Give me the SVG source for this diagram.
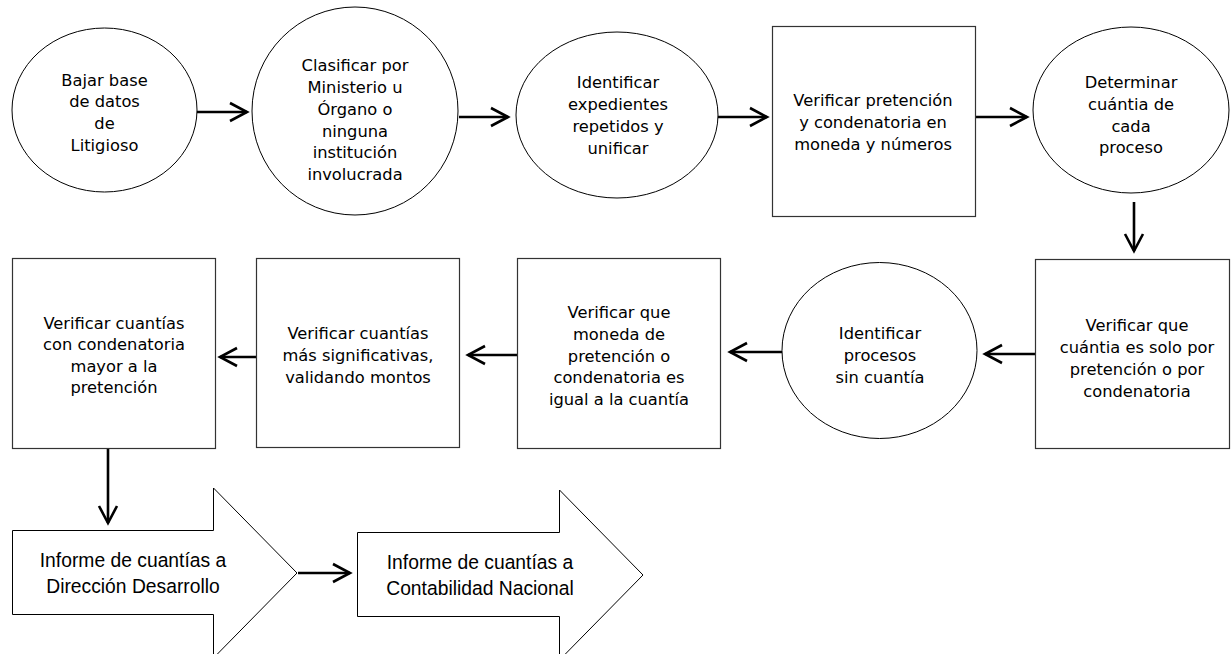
<svg xmlns="http://www.w3.org/2000/svg" width="1231" height="654" viewBox="0 0 1231 654">
<style>
.shape{fill:#fff;stroke:#000;stroke-width:1}
.box{fill:#fff;stroke:#333;stroke-width:1.2}
.t{font-family:"DejaVu Sans",Verdana,sans-serif;font-size:16.3px;fill:#000;text-anchor:middle}
.c{font-family:"Liberation Sans",Arial,sans-serif;font-size:19.3px;fill:#000;text-anchor:middle}
.conn{stroke:#000;stroke-width:2.6;fill:none;marker-end:url(#chev)}
</style>
<defs>
<marker id="chev" markerUnits="userSpaceOnUse" markerWidth="24" markerHeight="24" viewBox="0 0 24 24" refX="21" refY="12" orient="auto">
<path d="M4,3 L21,12 L4,21" fill="none" stroke="#000" stroke-width="2.6"/>
</marker>
</defs>
<rect width="1231" height="654" fill="#fff"/>

<g id="connectors">
<line class="conn" x1="197" y1="112" x2="247" y2="112"/>
<line class="conn" x1="459" y1="117" x2="508" y2="117"/>
<line class="conn" x1="718" y1="117" x2="767" y2="117"/>
<line class="conn" x1="975" y1="117" x2="1027" y2="117"/>
<line class="conn" x1="1134" y1="202" x2="1134" y2="251"/>
<line class="conn" x1="1035" y1="354" x2="985" y2="354"/>
<line class="conn" x1="782" y1="352" x2="730" y2="352"/>
<line class="conn" x1="517" y1="355" x2="468" y2="355"/>
<line class="conn" x1="256" y1="357" x2="220" y2="357"/>
<line class="conn" x1="108" y1="448" x2="108" y2="523"/>
<line class="conn" x1="298" y1="573" x2="350" y2="573"/>
</g>

<g id="n1">
<ellipse class="shape" cx="104.5" cy="110" rx="92.5" ry="82"/>
<text class="t"><tspan x="104.5" y="86">Bajar base</tspan><tspan x="104.5" y="107">de datos</tspan><tspan x="104.5" y="129">de</tspan><tspan x="104.5" y="151">Litigioso</tspan></text>
</g>

<g id="n2">
<ellipse class="shape" cx="355" cy="111" rx="103" ry="104"/>
<text class="t"><tspan x="355" y="71">Clasificar por</tspan><tspan x="355" y="93">Ministerio u</tspan><tspan x="355" y="115">Órgano o</tspan><tspan x="355" y="137">ninguna</tspan><tspan x="355" y="158">institución</tspan><tspan x="355" y="180">involucrada</tspan></text>
</g>

<g id="n3">
<ellipse class="shape" cx="617" cy="115" rx="101" ry="83"/>
<text class="t"><tspan x="618" y="88">Identificar</tspan><tspan x="618" y="110">expedientes</tspan><tspan x="618" y="132">repetidos y</tspan><tspan x="618" y="154">unificar</tspan></text>
</g>

<g id="n4">
<rect class="box" x="772.5" y="26.5" width="203" height="190"/>
<text class="t"><tspan x="873" y="106">Verificar pretención</tspan><tspan x="873" y="128">y condenatoria en</tspan><tspan x="873" y="150">moneda y números</tspan></text>
</g>

<g id="n5">
<ellipse class="shape" cx="1131" cy="110" rx="98" ry="83"/>
<text class="t"><tspan x="1131" y="88">Determinar</tspan><tspan x="1131" y="110">cuántia de</tspan><tspan x="1131" y="132">cada</tspan><tspan x="1131" y="153">proceso</tspan></text>
</g>

<g id="n6">
<rect class="box" x="1035.5" y="259.5" width="194" height="189"/>
<text class="t"><tspan x="1137" y="331">Verificar que</tspan><tspan x="1137" y="353">cuántia es solo por</tspan><tspan x="1137" y="375">pretención o por</tspan><tspan x="1137" y="397">condenatoria</tspan></text>
</g>

<g id="n7">
<ellipse class="shape" cx="879.5" cy="350.5" rx="97.5" ry="88"/>
<text class="t"><tspan x="880" y="339">Identificar</tspan><tspan x="880" y="361">procesos</tspan><tspan x="880" y="383">sin cuantía</tspan></text>
</g>

<g id="n8">
<rect class="box" x="517.5" y="258.5" width="203" height="190"/>
<text class="t"><tspan x="619" y="318">Verificar que</tspan><tspan x="619" y="340">moneda de</tspan><tspan x="619" y="362">pretención o</tspan><tspan x="619" y="383">condenatoria es</tspan><tspan x="619" y="405">igual a la cuantía</tspan></text>
</g>

<g id="n9">
<rect class="box" x="256.5" y="258.5" width="203" height="189"/>
<text class="t"><tspan x="358" y="339">Verificar cuantías</tspan><tspan x="358" y="361">más significativas,</tspan><tspan x="358" y="383">validando montos</tspan></text>
</g>

<g id="n10">
<rect class="box" x="12.5" y="258.5" width="203" height="190"/>
<text class="t"><tspan x="114" y="329">Verificar cuantías</tspan><tspan x="114" y="350">con condenatoria</tspan><tspan x="114" y="372">mayor a la</tspan><tspan x="114" y="393">pretención</tspan></text>
</g>

<g id="n11">
<path class="shape" d="M12.5,530.5 H213.5 V488 L297,573 L213.5,658 V614.5 H12.5 Z"/>
<text class="c"><tspan x="133" y="567">Informe de cuantías a</tspan><tspan x="133" y="593">Dirección Desarrollo</tspan></text>
</g>

<g id="n12">
<path class="shape" d="M357.5,532.5 H559.5 V490 L643,575 L559.5,660 V616.5 H357.5 Z"/>
<text class="c"><tspan x="480" y="569">Informe de cuantías a</tspan><tspan x="480" y="595">Contabilidad Nacional</tspan></text>
</g>
</svg>
